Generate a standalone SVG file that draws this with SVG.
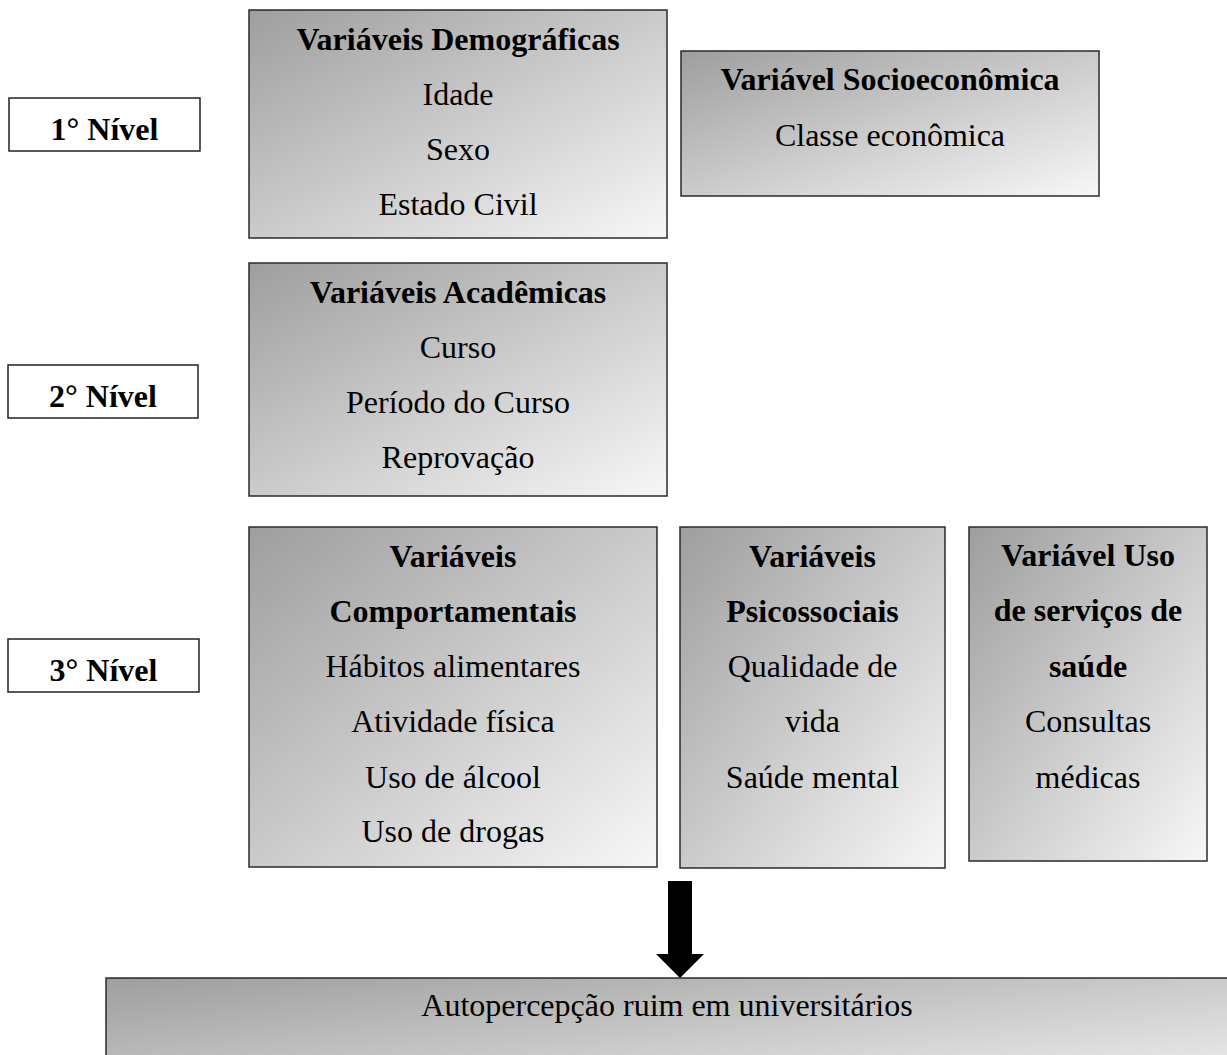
<svg xmlns="http://www.w3.org/2000/svg" width="1227" height="1055" viewBox="0 0 1227 1055">
<defs>
<linearGradient id="g" x1="0" y1="0" x2="1" y2="1">
<stop offset="0" stop-color="#9e9e9e"/>
<stop offset="1" stop-color="#f7f7f7"/>
</linearGradient>
<style>
.box{fill:url(#g);stroke:#2a2a2a;stroke-width:1.5}
.lvl{fill:#fff;stroke:#222;stroke-width:1.5}
text{font-family:"Liberation Serif","Times New Roman",serif;font-size:32px;fill:#000;text-anchor:middle}
.b{font-weight:bold}
</style>
</defs>
<rect width="1227" height="1055" fill="#fff"/>
<g id="nivel1"><rect class="lvl" x="9" y="98" width="191" height="53"/><text class="b" x="104.5" y="140">1° Nível</text></g>
<g id="nivel2"><rect class="lvl" x="8" y="365" width="190" height="53"/><text class="b" x="103" y="407">2° Nível</text></g>
<g id="nivel3"><rect class="lvl" x="8" y="639" width="191" height="53"/><text class="b" x="103.5" y="681">3° Nível</text></g>
<g id="demograficas"><rect class="box" x="249" y="10" width="418" height="228"/>
<text class="b" x="458" y="50">Variáveis Demográficas</text>
<text x="458" y="105">Idade</text><text x="458" y="160">Sexo</text><text x="458" y="215">Estado Civil</text></g>
<g id="socioeconomica"><rect class="box" x="681" y="51" width="418" height="145"/>
<text class="b" x="890" y="90">Variável Socioeconômica</text>
<text x="890" y="146">Classe econômica</text></g>
<g id="academicas"><rect class="box" x="249" y="263" width="418" height="233"/>
<text class="b" x="458" y="303">Variáveis Acadêmicas</text>
<text x="458" y="358">Curso</text><text x="458" y="413">Período do Curso</text><text x="458" y="468">Reprovação</text></g>
<g id="comportamentais"><rect class="box" x="249" y="527" width="408" height="340"/>
<text class="b" x="453" y="567">Variáveis</text><text class="b" x="453" y="622">Comportamentais</text>
<text x="453" y="677">Hábitos alimentares</text><text x="453" y="732">Atividade física</text>
<text x="453" y="788">Uso de álcool</text><text x="453" y="842">Uso de drogas</text></g>
<g id="psicossociais"><rect class="box" x="680" y="527" width="265" height="341"/>
<text class="b" x="812.5" y="567">Variáveis</text><text class="b" x="812.5" y="622">Psicossociais</text>
<text x="812.5" y="677">Qualidade de</text><text x="812.5" y="732">vida</text><text x="812.5" y="788">Saúde mental</text></g>
<g id="servicos"><rect class="box" x="969" y="527" width="238" height="334"/>
<text class="b" x="1088" y="566">Variável Uso</text><text class="b" x="1088" y="621">de serviços de</text><text class="b" x="1088" y="677">saúde</text>
<text x="1088" y="732">Consultas</text><text x="1088" y="788">médicas</text></g>
<g id="connectors"><polygon points="668,881 692,881 692,954 704,954 680,978 656,954 668,954" fill="#000"/></g>
<g id="autopercepcao"><rect class="box" x="106" y="978" width="1125" height="130"/>
<text x="667" y="1016">Autopercepção ruim em universitários</text></g>
</svg>
